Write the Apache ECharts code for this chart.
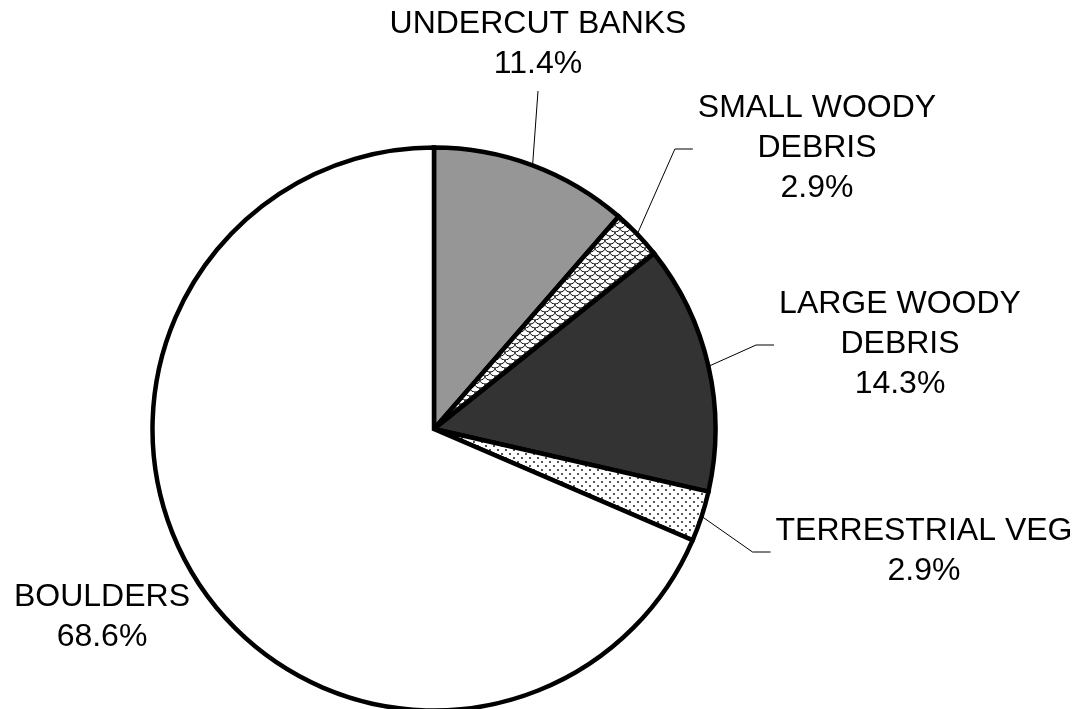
<!DOCTYPE html>
<html>
<head>
<meta charset="utf-8">
<title>Habitat cover types</title>
<script src="https://cdn.jsdelivr.net/npm/echarts@6/dist/echarts.min.js"></script>
<style>
  html, body { margin: 0; padding: 0; background: #ffffff; }
  #chart { width: 1080px; height: 709px; }
</style>
</head>
<body>
<div id="chart"></div>
<script>
// Cover types, clockwise from 12 o'clock, and their share of the total (%)
const categories = [
  'UNDERCUT BANKS',
  'SMALL WOODY\nDEBRIS',
  'LARGE WOODY\nDEBRIS',
  'TERRESTRIAL VEG',
  'BOULDERS'
];
const percentValues = [11.4, 2.9, 14.3, 2.9, 68.6];

// Small tiled fills used for the two hatched slices
function makeTile(w, h, draw) {
  const c = document.createElement('canvas');
  c.width = w; c.height = h;
  const ctx = c.getContext('2d');
  ctx.fillStyle = '#ffffff';
  ctx.fillRect(0, 0, w, h);
  draw(ctx);
  return c;
}
const shingleTile = makeTile(10, 8, function (ctx) {
  ctx.strokeStyle = '#000000';
  ctx.lineWidth = 1;
  [[0, 0], [10, 0], [5, 4]].forEach(function (p) {
    ctx.beginPath();
    ctx.ellipse(p[0], p[1], 5, 4, 0, 0, Math.PI);
    ctx.stroke();
  });
});
const dotTile = makeTile(8, 8, function (ctx) {
  ctx.fillStyle = '#555555';
  ctx.fillRect(1, 1, 2, 2);
  ctx.fillRect(5, 5, 2, 2);
});

const fills = [
  '#969696',
  { image: shingleTile, repeat: 'repeat' },
  '#333333',
  { image: dotTile, repeat: 'repeat' },
  '#ffffff'
];

// Label block centres and how each leader line attaches to its label
const labelSpots = [
  { x: 538, y: 44,  attach: 'bottom' },
  { x: 817, y: 148, attach: 'left' },
  { x: 900, y: 344, attach: 'left' },
  { x: 924, y: 551, attach: 'left' },
  { x: 102, y: 617, attach: 'none' }
];

const chart = echarts.init(document.getElementById('chart'), null, { renderer: 'canvas' });

const seriesData = categories.map(function (name, i) {
  const item = {
    name: name,
    value: percentValues[i],
    itemStyle: { color: fills[i] }
  };
  if (labelSpots[i].attach === 'none') {
    item.label = { position: 'inside' };
    item.labelLine = { show: false };
  }
  return item;
});

chart.setOption({
  backgroundColor: '#ffffff',
  animation: false,
  series: [{
    type: 'pie',
    center: [434, 429],
    radius: 281.5,
    startAngle: 90,
    clockwise: true,
    avoidLabelOverlap: false,
    emphasis: { disabled: true },
    itemStyle: {
      borderColor: '#000000',
      borderWidth: 4.5,
      borderJoin: 'miter',
      borderMiterLimit: 4
    },
    label: {
      show: true,
      position: 'outside',
      formatter: '{b}\n{c}%',
      color: '#000000',
      fontFamily: '"Liberation Sans", Arial, sans-serif',
      fontSize: 32,
      lineHeight: 40,
      align: 'center'
    },
    labelLine: {
      show: true,
      smooth: false,
      lineStyle: { color: '#000000', width: 1 }
    },
    labelLayout: function (params) {
      const spot = labelSpots[params.dataIndex];
      const out = { x: spot.x, y: spot.y, align: 'center', verticalAlign: 'middle' };
      const pts = params.labelLinePoints;
      if (pts && pts.length && spot.attach !== 'none') {
        const start = pts[0];
        const w = params.labelRect.width;
        const h = params.labelRect.height;
        if (spot.attach === 'bottom') {
          const end = [spot.x, spot.y + h / 2 + 7];
          out.labelLinePoints = [start, end, end];
        } else {
          const end = [spot.x - w / 2 - 5, spot.y + 1];
          const bend = [end[0] - 18, end[1]];
          out.labelLinePoints = [start, bend, end];
        }
      }
      return out;
    },
    data: seriesData
  }]
});
</script>
</body>
</html>
